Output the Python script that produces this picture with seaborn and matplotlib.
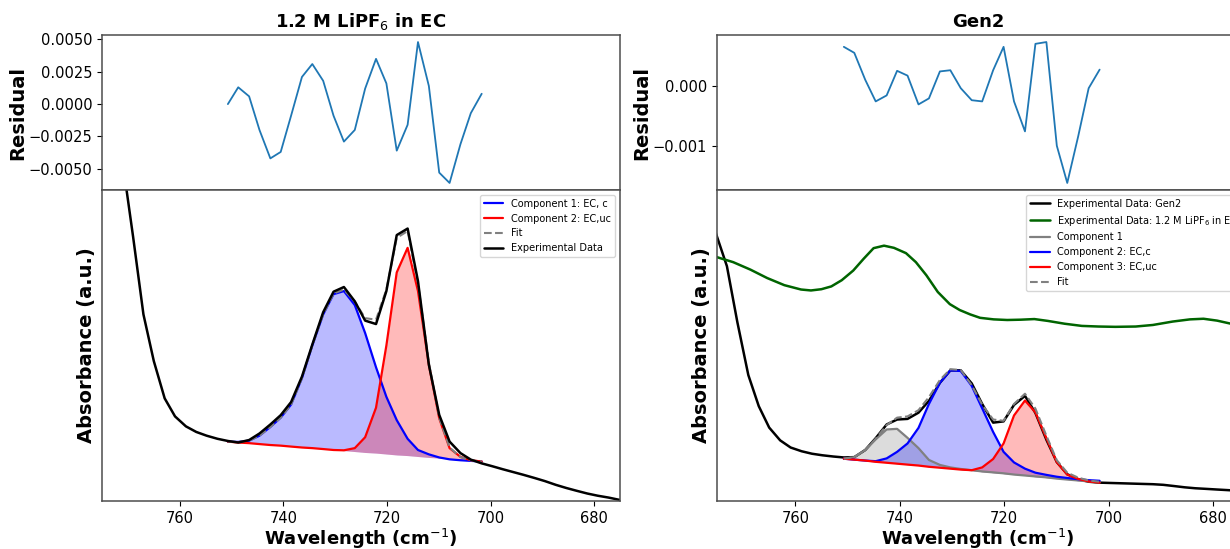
import matplotlib
matplotlib.use("Agg")
import matplotlib.pyplot as plt
from matplotlib.ticker import MultipleLocator
import seaborn as sns

sns.set_style("ticks")
plt.rcParams['font.family'] = ['DejaVu Sans']
plt.rcParams['axes.edgecolor'] = '0.3'
plt.rcParams['axes.linewidth'] = 1.1
for k in ('text.color', 'axes.labelcolor', 'xtick.color', 'ytick.color'):
    plt.rcParams[k] = 'black'

# ---------------- data ----------------
exp_wn = [777.2, 775.2, 773.1, 771.1, 769.0, 767.0, 765.0, 762.9, 760.9, 758.8, 756.8, 754.8, 752.7,
          750.7, 748.7, 746.6, 744.6, 742.5, 740.5, 738.5, 736.4, 734.4, 732.3, 730.3, 728.3, 726.2,
          724.2, 722.1, 720.1, 718.1, 716.0, 714.0, 711.9, 709.9, 707.9, 705.8, 703.8, 701.7,
          699.7, 697.6, 695.6, 693.6, 691.5, 689.5, 687.4, 685.4, 683.4, 681.3, 679.3, 677.2, 675.2, 673.2]

fit_wn = [750.7, 748.7, 746.6, 744.6, 742.5, 740.5, 738.5, 736.4, 734.4, 732.3, 730.3, 728.3, 726.2,
          724.2, 722.1, 720.1, 718.1, 716.0, 714.0, 711.9, 709.9, 707.9, 705.8, 703.8, 701.7]

# Left panel: 1.2 M LiPF6 in EC
ec_exp = [2.00, 1.68, 1.38, 1.10, 0.85, 0.60, 0.45, 0.33, 0.272, 0.240, 0.222, 0.210, 0.200,
          0.193, 0.188, 0.196, 0.217, 0.246, 0.276, 0.318, 0.400, 0.503, 0.607, 0.673, 0.688, 0.642,
          0.580, 0.569, 0.675, 0.855, 0.876, 0.707, 0.438, 0.277, 0.191, 0.154, 0.133, 0.121,
          0.112, 0.102, 0.093, 0.084, 0.074, 0.064, 0.052, 0.042, 0.033, 0.024, 0.017, 0.011, 0.004, -0.002]
ec_base = [0.191, 0.188, 0.186, 0.183, 0.180, 0.178, 0.175, 0.172, 0.170, 0.167, 0.164, 0.162, 0.159,
           0.156, 0.154, 0.151, 0.148, 0.146, 0.143, 0.140, 0.138, 0.135, 0.132, 0.130, 0.127]
ec_comp1 = [0.191, 0.190, 0.194, 0.210, 0.238, 0.268, 0.310, 0.395, 0.500, 0.600, 0.665, 0.675, 0.630,
            0.540, 0.430, 0.335, 0.260, 0.200, 0.164, 0.150, 0.140, 0.134, 0.131, 0.129, 0.127]
ec_comp2 = [0.191, 0.188, 0.186, 0.183, 0.180, 0.178, 0.175, 0.172, 0.170, 0.167, 0.164, 0.163, 0.170,
            0.205, 0.300, 0.500, 0.735, 0.814, 0.675, 0.438, 0.266, 0.170, 0.142, 0.131, 0.127]
ec_fit = [0.191, 0.190, 0.194, 0.210, 0.238, 0.268, 0.310, 0.395, 0.500, 0.601, 0.667, 0.680, 0.641,
          0.588, 0.583, 0.680, 0.846, 0.868, 0.700, 0.445, 0.268, 0.172, 0.141, 0.131, 0.127]
ec_resid = [0.0000, 0.0013, 0.0006, -0.0020, -0.0042, -0.0037, -0.0009, 0.0021, 0.0031, 0.0018,
            -0.0009, -0.0029, -0.0020, 0.0012, 0.0035, 0.0016, -0.0036, -0.0016, 0.0048, 0.0014,
            -0.0053, -0.0061, -0.0031, -0.0007, 0.0008]

# Right panel: Gen2
gen2_exp = [1.00, 0.86, 0.755, 0.575, 0.405, 0.305, 0.236, 0.195, 0.172, 0.160, 0.152, 0.147, 0.143,
            0.140, 0.141, 0.164, 0.202, 0.246, 0.262, 0.264, 0.284, 0.322, 0.380, 0.420, 0.420, 0.378,
            0.312, 0.252, 0.256, 0.309, 0.338, 0.283, 0.197, 0.125, 0.086, 0.070, 0.062, 0.059,
            0.058, 0.057, 0.056, 0.055, 0.054, 0.052, 0.048, 0.044, 0.041, 0.039, 0.037, 0.035, 0.033, 0.032]
gen2_base = [0.136, 0.133, 0.130, 0.126, 0.123, 0.120, 0.117, 0.114, 0.110, 0.107, 0.104, 0.101, 0.098,
             0.094, 0.091, 0.088, 0.085, 0.082, 0.078, 0.075, 0.072, 0.069, 0.065, 0.062, 0.059]
gen2_comp1 = [0.136, 0.141, 0.164, 0.198, 0.230, 0.232, 0.203, 0.170, 0.132, 0.116, 0.108, 0.103, 0.099,
              0.095, 0.092, 0.089, 0.085, 0.082, 0.079, 0.076, 0.072, 0.069, 0.066, 0.063, 0.060]
gen2_comp2 = [0.136, 0.133, 0.130, 0.128, 0.137, 0.158, 0.185, 0.235, 0.312, 0.380, 0.420, 0.418, 0.370,
              0.298, 0.222, 0.158, 0.124, 0.104, 0.091, 0.084, 0.078, 0.074, 0.070, 0.067, 0.065]
gen2_comp3 = [0.136, 0.133, 0.130, 0.126, 0.123, 0.120, 0.117, 0.114, 0.110, 0.107, 0.104, 0.101, 0.099,
              0.108, 0.135, 0.185, 0.275, 0.323, 0.285, 0.202, 0.125, 0.085, 0.071, 0.063, 0.059]
gen2_fit = [0.136, 0.141, 0.164, 0.200, 0.244, 0.268, 0.272, 0.292, 0.334, 0.389, 0.424, 0.421, 0.372,
            0.310, 0.262, 0.258, 0.312, 0.345, 0.297, 0.210, 0.131, 0.091, 0.075, 0.066, 0.062]
gen2_resid = [0.00065, 0.00055, 0.00010, -0.00026, -0.00016, 0.00025, 0.00017, -0.00031, -0.00021,
              0.00024, 0.00026, -0.00004, -0.00024, -0.00026, 0.00026, 0.00065, -0.00026, -0.00076,
              0.00070, 0.00073, -0.00100, -0.00162, -0.00084, -0.00004, 0.00027]

emc_wn = [777.0, 775.0, 771.9, 768.6, 765.4, 762.1, 758.9, 757.0, 755.0, 753.1, 751.1, 748.9, 746.9,
          745.0, 743.0, 741.1, 738.8, 736.9, 734.9, 732.7, 730.4, 728.5, 726.5, 724.6, 722.0, 719.4,
          716.8, 714.2, 711.6, 708.4, 705.1, 701.9, 698.7, 694.8, 691.5, 687.7, 684.4, 681.8, 679.2,
          676.8, 674.0]
emc_abs = [0.790, 0.784, 0.768, 0.744, 0.717, 0.694, 0.680, 0.677, 0.681, 0.690, 0.710, 0.741, 0.779,
           0.813, 0.821, 0.814, 0.797, 0.768, 0.726, 0.672, 0.633, 0.614, 0.600, 0.589, 0.584, 0.582,
           0.583, 0.585, 0.579, 0.570, 0.563, 0.561, 0.560, 0.561, 0.566, 0.577, 0.584, 0.586, 0.580,
           0.571, 0.560]

left_title = r"1.2 M LiPF$_6$ in EC"
right_title = "Gen2"
xlabel = r"Wavelength (cm$^{-1}$)"

# ---------------- figure ----------------
fig = plt.figure(figsize=(12.3, 5.49), dpi=100)
W, H = 1230.0, 549.0
def box(x0, y0, x1, y1):
    return [x0 / W, 1 - y1 / H, (x1 - x0) / W, (y1 - y0) / H]

axr1 = fig.add_axes(box(102, 35, 620, 190))
axm1 = fig.add_axes(box(102, 190, 620, 501))
axr2 = fig.add_axes(box(717, 35, 1239, 190))
axm2 = fig.add_axes(box(717, 190, 1239, 501))

def line(ax, x, y, **kw):
    sns.lineplot(x=x, y=y, ax=ax, sort=False, estimator=None, **kw)

XL = (775, 675)
TICK_FS = 10.5

# residuals
for ax, res, title, step in [(axr1, ec_resid, left_title, 0.0025), (axr2, gen2_resid, right_title, 0.001)]:
    line(ax, fit_wn, res, color='#1f77b4', lw=1.3)
    ax.set_xlim(*XL)
    ax.yaxis.set_major_locator(MultipleLocator(step))
    ax.tick_params(axis='x', bottom=False, labelbottom=False)
    ax.tick_params(axis='y', labelsize=TICK_FS, length=3.5, width=0.8, pad=3.5)
    ax.set_ylabel("Residual", fontsize=14, fontweight='bold', labelpad=1)
    ax.set_title(title, fontsize=13, fontweight='bold')

# left main
ax = axm1
ax.fill_between(fit_wn, ec_base, ec_comp1, color='blue', alpha=0.27, lw=0)
ax.fill_between(fit_wn, ec_base, ec_comp2, color='red', alpha=0.27, lw=0)
line(ax, fit_wn, ec_comp1, color='blue', lw=1.6, label="Component 1: EC, c")
line(ax, fit_wn, ec_comp2, color='red', lw=1.6, label="Component 2: EC,uc")
line(ax, fit_wn, ec_fit, color='gray', lw=1.5, linestyle='--', label="Fit")
line(ax, exp_wn, ec_exp, color='black', lw=1.8, label="Experimental Data")
h, l = ax.get_legend_handles_labels()
ax.legend(h, l, loc='upper right', fontsize=7, framealpha=0.8)

# right main
ax = axm2
ax.fill_between(fit_wn, gen2_base, gen2_comp1, color='gray', alpha=0.27, lw=0)
ax.fill_between(fit_wn, gen2_base, gen2_comp2, color='blue', alpha=0.27, lw=0)
ax.fill_between(fit_wn, gen2_base, gen2_comp3, color='red', alpha=0.27, lw=0)
line(ax, exp_wn, gen2_exp, color='black', lw=1.8, label="Experimental Data: Gen2")
line(ax, emc_wn, emc_abs, color='darkgreen', lw=1.8, label=r"Experimental Data: 1.2 M LiPF$_6$ in EMC")
line(ax, fit_wn, gen2_comp1, color='gray', lw=1.6, label="Component 1")
line(ax, fit_wn, gen2_comp2, color='blue', lw=1.6, label="Component 2: EC,c")
line(ax, fit_wn, gen2_comp3, color='red', lw=1.6, label="Component 3: EC,uc")
line(ax, fit_wn, gen2_fit, color='gray', lw=1.5, linestyle='--', label="Fit")
h, l = ax.get_legend_handles_labels()
ax.legend(h, l, loc='upper left', bbox_to_anchor=(0.583, 1.0), fontsize=7, framealpha=0.8)

for ax in (axm1, axm2):
    ax.set_xlim(*XL)
    ax.set_ylim(0, 1)
    ax.set_yticks([])
    ax.tick_params(axis='x', labelsize=TICK_FS, length=3.5, width=0.8, pad=3.5)
    ax.set_xlabel(xlabel, fontsize=13, fontweight='bold', labelpad=1)
    ax.set_ylabel("Absorbance (a.u.)", fontsize=14, fontweight='bold')

fig.savefig("out.png", dpi=100)
